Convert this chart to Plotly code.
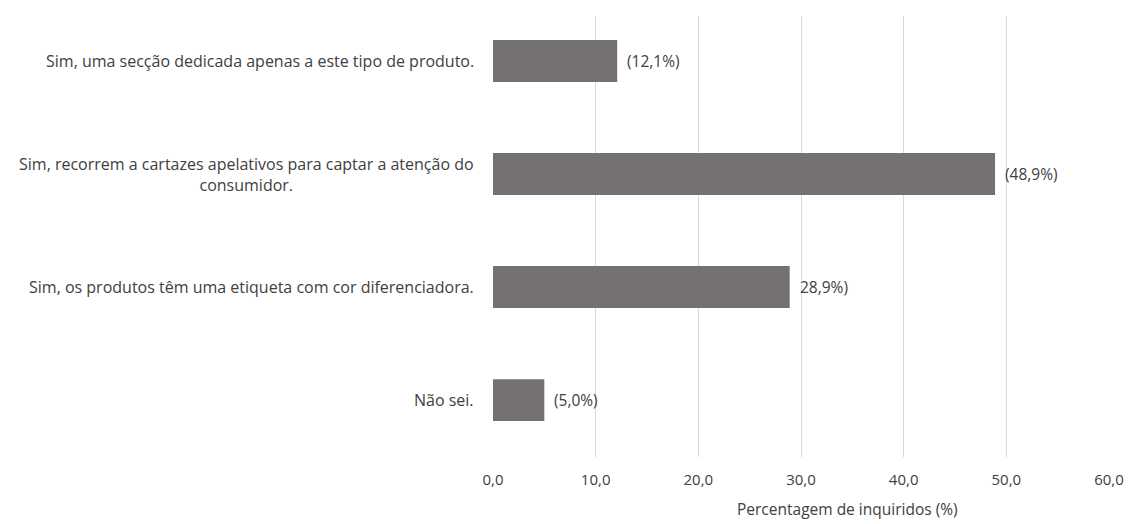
import plotly.graph_objects as go

# Survey answers, top to bottom
categories = [
    "Sim, uma secção dedicada apenas a este tipo de produto.",
    "Sim, recorrem a cartazes apelativos para captar a atenção do<br>consumidor.",
    "Sim, os produtos têm uma etiqueta com cor diferenciadora.",
    "Não sei.",
]
values = [12.1, 48.9, 28.9, 5.0]
value_labels = ["(12,1%)", "(48,9%)", "28,9%)", "(5,0%)"]
x_ticks = [0, 10, 20, 30, 40, 50, 60]
x_title = "Percentagem de inquiridos (%)"

FONT = "Open Sans"
TEXT_COLOR = "#404040"
BAR_COLOR = "#767171"

positions = list(range(len(categories)))

fig = go.Figure()
fig.add_trace(go.Bar(
    x=values,
    y=positions,
    orientation="h",
    width=0.37,
    marker=dict(color=BAR_COLOR, line=dict(width=0)),
    hoverinfo="skip",
))

# Value labels just past each bar end
for pos, val, lab in zip(positions, values, value_labels):
    fig.add_annotation(
        x=val, y=pos, xref="x", yref="y", text=lab, showarrow=False,
        xanchor="left", yanchor="middle", xshift=8,
        font=dict(family=FONT, size=15.5, color=TEXT_COLOR),
    )

# Category labels, right-aligned to the left of the plot, lines centred
for pos, cat in zip(positions, categories):
    fig.add_annotation(
        x=0, y=pos, xref="paper", yref="y", text=cat, showarrow=False,
        xanchor="right", yanchor="middle", xshift=-17, align="center",
        font=dict(family=FONT, size=16, color=TEXT_COLOR),
    )

# Axis title, sitting right at the bottom edge
fig.add_annotation(
    x=0.575, y=-0.148, xref="paper", yref="paper", text=x_title,
    showarrow=False, xanchor="center", yanchor="bottom",
    font=dict(family=FONT, size=15.5, color=TEXT_COLOR),
)

fig.update_layout(
    width=1136, height=524,
    margin=dict(l=493, r=23, t=16, b=67),
    paper_bgcolor="white", plot_bgcolor="white",
    separators=",.",
    showlegend=False,
    xaxis=dict(
        range=[0, 60], tickvals=x_ticks, tickformat=".1f",
        showgrid=True, gridcolor="#d9d9d9", gridwidth=1,
        zeroline=False, showline=False, ticks="",
        tickfont=dict(family=FONT, size=15, color=TEXT_COLOR),
        ticklabelstandoff=12,
    ),
    yaxis=dict(
        range=[3.504, -0.398], showticklabels=False, showgrid=False,
        zeroline=False, showline=False, ticks="",
    ),
)

fig.write_html("out.html")
